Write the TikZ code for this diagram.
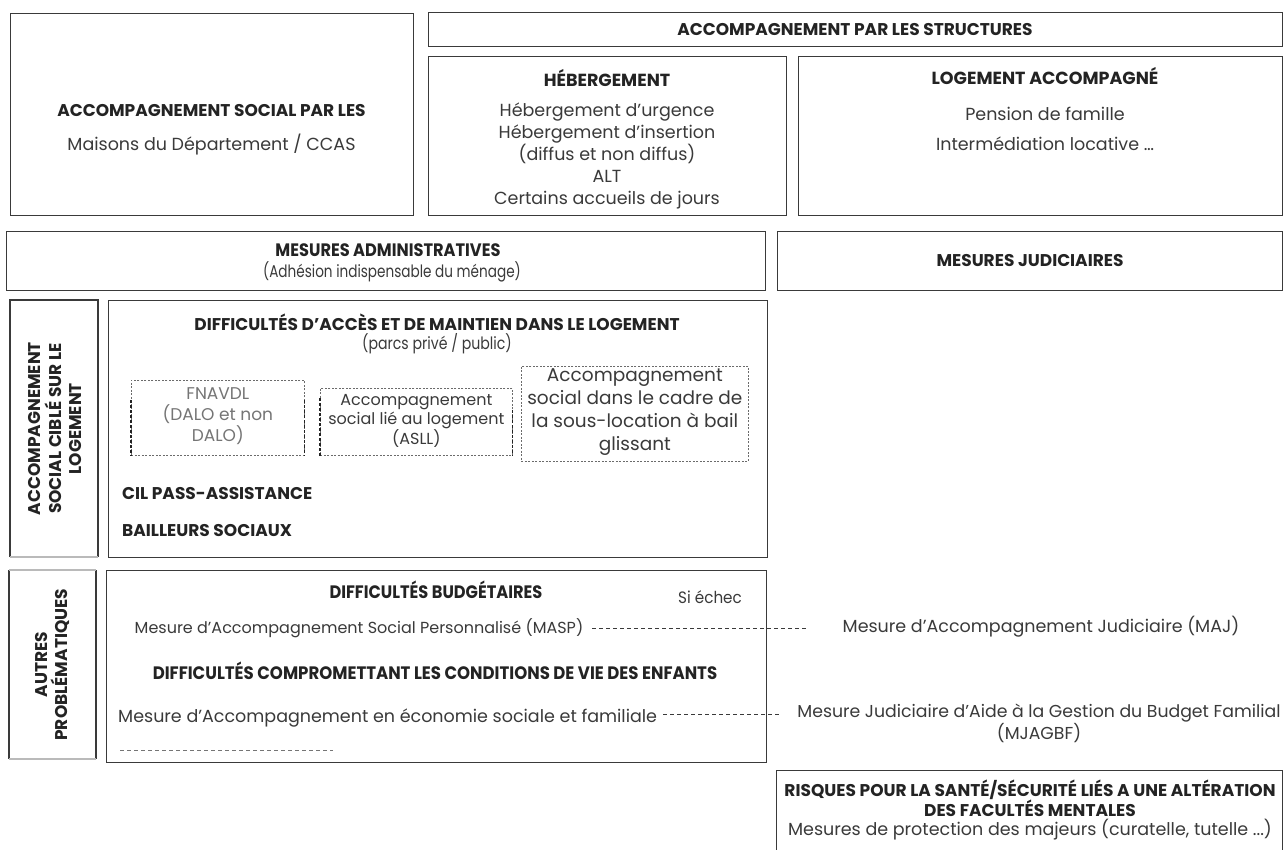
\documentclass[tikz,border=0pt]{standalone}
\usepackage{fontspec}
\setmainfont{Poppins}
\usepackage{graphicx}
\definecolor{ink}{HTML}{3A3A3A}
\definecolor{head}{HTML}{232323}
\newcommand{\narrow}[2][0.9]{\scalebox{#1}[1]{#2}}
\tikzset{
 frame/.style={draw=ink, line width=1.3pt, anchor=north west, inner sep=0pt},
 body/.style={text=ink, font=\fontsize{17.5}{22}\selectfont, align=center, inner sep=0pt},
 paren/.style={text=ink, font=\fontsize{17}{19}\selectfont, align=center, inner sep=0pt},
 headtxt/.style={text=head, font=\fontsize{17}{20}\selectfont\bfseries, align=center, inner sep=0pt},
 condhead/.style={text=head, font=\fontsize{18}{20}\selectfont\bfseries, align=center, inner sep=0pt},
 vert/.style={text=head, font=\fontsize{17}{20.5}\selectfont\bfseries, align=center, inner sep=0pt, rotate=90},
 dotbox/.style={draw=ink!75, line width=0.7pt, dash pattern=on 2pt off 1.5pt, anchor=north west, inner sep=0pt},
 thickdash/.style={draw=head, line width=1.3pt, dash pattern=on 3pt off 2pt},
 link/.style={draw=ink, line width=0.9pt, dash pattern=on 4pt off 3pt},
}
\begin{document}
\begin{tikzpicture}[x=1pt,y=-1pt]
\clip (0,0) rectangle (1284,849);
\fill[white] (0,0) rectangle (1284,849);

% ---------- top row ----------
\node[frame, minimum width=403pt, minimum height=202pt] (boxA) at (10,13) {};
\node[headtxt] (tA) at (211.5,111) {ACCOMPAGNEMENT SOCIAL PAR LES};
\node[body] (sA) at (211.5,145) {Maisons du Département / CCAS};

\node[frame, minimum width=854pt, minimum height=34pt] (boxS) at (428,12) {};
\node[headtxt] (tS) at (855,30) {ACCOMPAGNEMENT PAR LES STRUCTURES};

\node[frame, minimum width=358pt, minimum height=159pt] (boxH) at (428,56) {};
\node[headtxt, font=\fontsize{17.5}{20}\selectfont\bfseries] (tH) at (607,78) {HÉBERGEMENT};
\node[body] (sH) at (607,156) {Hébergement d’urgence\\Hébergement d’insertion\\(diffus et non diffus)\\ALT\\Certains accueils de jours};

\node[frame, minimum width=484pt, minimum height=159pt] (boxL) at (798,56) {};
\node[headtxt, font=\fontsize{17.5}{20}\selectfont\bfseries] (tL) at (1045,76) {LOGEMENT ACCOMPAGNÉ};
\node[body] (sL1) at (1045,114) {Pension de famille};
\node[body] (sL2) at (1045,144) {Intermédiation locative …};

% ---------- measures row ----------
\node[frame, minimum width=759pt, minimum height=59pt] (boxMA) at (6,231) {};
\node[condhead] (tMA) at (388,250) {\narrow{MESURES ADMINISTRATIVES}};
\node[paren] (sMA) at (392,272) {\narrow[0.8]{(Adhésion indispensable du ménage)}};

\node[frame, minimum width=505pt, minimum height=59pt] (boxMJ) at (777,231) {};
\node[headtxt] (tMJ) at (1030,261) {MESURES JUDICIAIRES};

% ---------- housing section ----------
\draw[draw=ink, line width=1.3pt] (10,557) -- (10,300) -- (98,300) -- (98,557);
\draw[draw=ink!35, line width=1.2pt] (10,557) -- (98,557);
\node[inner sep=0pt, minimum width=88pt, minimum height=257pt, anchor=north west] (boxV1) at (10,300) {};
\node[vert] (tV1) at ([xshift=1pt]boxV1.center) {ACCOMPAGNEMENT\\SOCIAL CIBLÉ SUR LE\\LOGEMENT};

\node[frame, minimum width=659pt, minimum height=257pt] (boxD) at (108,300) {};
\node[headtxt] (tD) at (437,322) {DIFFICULTÉS D’ACCÈS ET DE MAINTIEN DANS LE LOGEMENT};
\node[paren] (sD) at (437,344) {\narrow[0.83]{(parcs privé / public)}};

\node[dotbox, minimum width=173pt, minimum height=75pt] (fna) at (131,380) {};
\node[body, text=ink!70, font=\fontsize{17}{21}\selectfont] (tfna) at ([yshift=1.5pt]fna.center) {FNAVDL\\(DALO et non\\DALO)};
\draw[thickdash] ([yshift=-20pt]fna.north west) -- (fna.south west);
\draw[thickdash] ([yshift=-20pt]fna.north east) -- (fna.south east);

\node[dotbox, minimum width=192pt, minimum height=67pt] (asll) at (320,388) {};
\node[body, font=\fontsize{16}{19}\selectfont] (tasll) at ([yshift=1pt]asll.center) {Accompagnement\\social lié au logement\\(ASLL)};
\draw[thickdash] ([yshift=-10pt]asll.north west) -- (asll.south west);
\draw[thickdash] ([yshift=-22pt]asll.north east) -- (asll.south east);

\node[dotbox, minimum width=227pt, minimum height=95pt] (bail) at (521,366) {};
\node[body, font=\fontsize{18.5}{23}\selectfont] (tbail) at ([yshift=2pt]bail.center) {Accompagnement\\social dans le cadre de\\la sous-location à bail\\glissant};

\node[headtxt, anchor=west] (cil) at (122,493) {CIL PASS-ASSISTANCE};
\node[headtxt, anchor=west] (bs) at (122,530) {BAILLEURS SOCIAUX};

% ---------- other problems section ----------
\draw[draw=ink, line width=1.3pt] (9,570) -- (9,759);
\draw[draw=ink, line width=1.3pt] (96,570) -- (96,759);
\draw[draw=ink!35, line width=1.2pt] (9,570) -- (96,570);
\draw[draw=ink!35, line width=1.2pt] (9,759) -- (96,759);
\node[inner sep=0pt, minimum width=87pt, minimum height=189pt, anchor=north west] (boxV2) at (9,570) {};
\node[vert] (tV2) at (boxV2.center) {AUTRES\\PROBLÉMATIQUES};

\node[frame, minimum width=660pt, minimum height=192pt] (boxB) at (106,570) {};
\node[condhead] (tB) at (436,590) {\narrow{DIFFICULTÉS BUDGÉTAIRES}};
\node[body, font=\fontsize{16.5}{19}\selectfont] (echec) at (710,597) {\narrow[0.92]{Si échec}};
\node[body, font=\fontsize{16}{19}\selectfont] (masp) at (359,628) {Mesure d’Accompagnement Social Personnalisé (MASP)};
\node[condhead] (tE) at (435,671) {\narrow[0.92]{DIFFICULTÉS COMPROMETTANT LES CONDITIONS DE VIE DES ENFANTS}};
\node[body, anchor=west] (eco) at (118,718) {Mesure d’Accompagnement en économie sociale et familiale};

\node[body] (maj) at (1041,627) {Mesure d’Accompagnement Judiciaire (MAJ)};
\node[body, font=\fontsize{17.3}{19}\selectfont] (mjagbf) at (1039,723) {Mesure Judiciaire d’Aide à la Gestion du Budget Familial\\(MJAGBF)};

\coordinate (c1) at (808,628);
\coordinate (c2) at (780,714);
\coordinate (c3) at (120,750);
\coordinate (c4) at (333,750);
\draw[link] ([xshift=9pt]masp.east) -- (c1);
\draw[link] ([xshift=6pt]eco.east |- c2) -- (c2);
\draw[link, draw=ink!70] (c3) -- (c4);

% ---------- risks ----------
\node[frame, minimum width=506pt, minimum height=110pt] (boxR) at (776,770) {};
\node[headtxt] (tR) at (1030,798) {RISQUES POUR LA SANTÉ/SÉCURITÉ LIÉS A UNE ALTÉRATION\\DES FACULTÉS MENTALES};
\node[body] (sR) at (1030,830) {Mesures de protection des majeurs (curatelle, tutelle ...)};
\end{tikzpicture}
\end{document}
